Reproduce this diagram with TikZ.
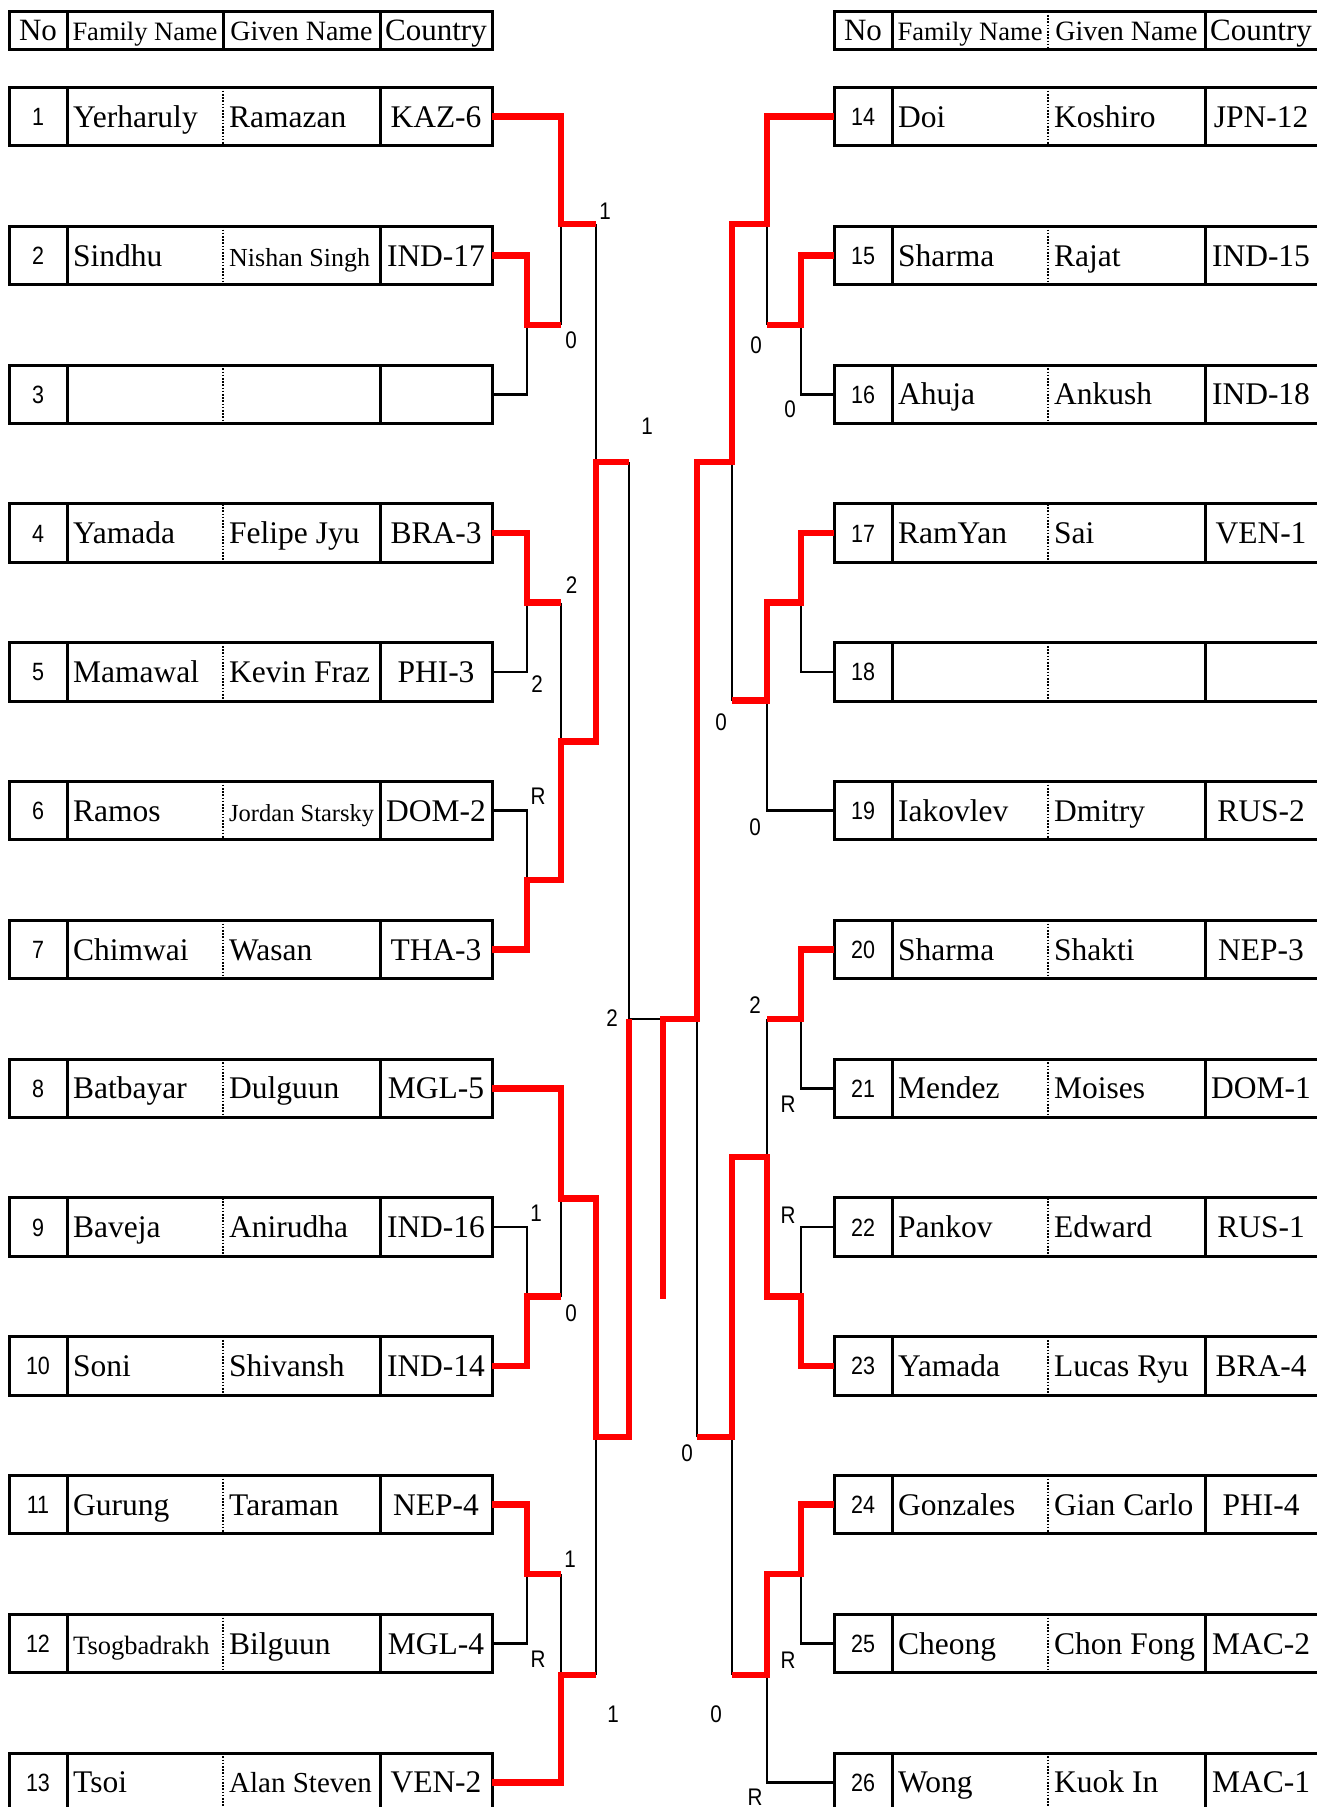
\documentclass[tikz,border=0pt]{standalone}
\usepackage{fontspec}
\setmainfont{Liberation Serif}
\newfontfamily\numfont[FakeStretch=0.86]{Liberation Sans}
\usetikzlibrary{calc}
\definecolor{winred}{RGB}{255,0,0}

\newcommand{\fit}[2]{{\fontsize{#1}{#1}\selectfont #2}}
\newcommand{\entrant}[6]{%
  \node[#1] (p#2) at (#3) {};
  \draw[cellrule] ($(p#2.north west)+(58,0)$) -- ($(p#2.south west)+(58,0)$);
  \draw[dotrule] ($(p#2.north west)+(214,0)$) -- ($(p#2.south west)+(214,0)$);
  \draw[cellrule] ($(p#2.north west)+(371,0)$) -- ($(p#2.south west)+(371,0)$);
  \node[numtxt] (n#2) at ($(p#2.west)+(29,0)$) {#2};
  \node[nametxt] (f#2) at ($(p#2.west)+(64,0)$) {#4};
  \node[nametxt] (g#2) at ($(p#2.west)+(220,0)$) {#5};
  \node[ctrytxt] (c#2) at ($(p#2.west)+(427,0)$) {#6};
}
\newcommand{\headrow}[4]{%
  \node[#2] (#1) at (#3) {};
  \draw[cellrule] ($(#1.north west)+(58,0)$) -- ($(#1.south west)+(58,0)$);
  \draw[#4] ($(#1.north west)+(214,0)$) -- ($(#1.south west)+(214,0)$);
  \draw[cellrule] ($(#1.north west)+(371,0)$) -- ($(#1.south west)+(371,0)$);
  \node[headtxt] (#1-no) at ($(#1.west)+(29,0)$) {No};
  \node[headtxt, font=\fontsize{26.5}{27}\selectfont] (#1-fam) at ($(#1.west)+(136,0)$) {Family Name};
  \node[headtxt, font=\fontsize{28}{28}\selectfont] (#1-giv) at ($(#1.west)+(292.5,0)$) {Given Name};
  \node[headtxt] (#1-cty) at ($(#1.west)+(427,0)$) {Country};
}

\begin{document}
\begin{tikzpicture}[x=1pt, y=-1pt,
  lrow/.style={draw, line width=3pt, minimum width=483pt, minimum height=58.4pt,
               inner sep=0pt, outer sep=0pt, anchor=west},
  rrow/.style={lrow, minimum width=490pt},
  lhead/.style={lrow, minimum height=37.6pt},
  rhead/.style={rrow, minimum height=37.6pt},
  cellrule/.style={line width=3pt},
  dotrule/.style={line width=2.2pt, dash pattern=on 1.6pt off 1.6pt},
  numtxt/.style={font=\numfont\fontsize{25}{25}\selectfont, inner sep=0pt,
                 text height=18pt, text depth=0pt},
  nametxt/.style={font=\fontsize{31.5}{32}\selectfont, anchor=west, inner sep=0pt,
                  text height=21pt, text depth=0pt},
  ctrytxt/.style={nametxt, anchor=center},
  headtxt/.style={font=\fontsize{31}{31}\selectfont, inner sep=0pt,
                  text height=20pt, text depth=0pt},
  score/.style={font=\numfont\fontsize{24}{24}\selectfont, inner sep=0pt,
                text height=17pt, text depth=0pt},
  won/.style={draw=winred, line width=6.5pt},
  lost/.style={draw=black, line width=2.6pt}
]
  \useasboundingbox (0,0) rectangle (1317,1807);

  \headrow{hl}{lhead}{9,30.5}{cellrule}
  \headrow{hr}{rhead}{834,30.5}{dotrule}

  \entrant{lrow}{1}{9,116.7}{Yerharuly}{Ramazan}{KAZ-6}
  \entrant{lrow}{2}{9,255.5}{Sindhu}{\fit{26}{Nishan Singh}}{IND-17}
  \entrant{lrow}{3}{9,394.3}{}{}{}
  \entrant{lrow}{4}{9,533.1}{Yamada}{Felipe Jyu}{BRA-3}
  \entrant{lrow}{5}{9,671.9}{Mamawal}{Kevin Fraz}{PHI-3}
  \entrant{lrow}{6}{9,810.7}{Ramos}{\fit{24.5}{Jordan Starsky}}{DOM-2}
  \entrant{lrow}{7}{9,949.5}{Chimwai}{Wasan}{THA-3}
  \entrant{lrow}{8}{9,1088.3}{Batbayar}{Dulguun}{MGL-5}
  \entrant{lrow}{9}{9,1227.1}{Baveja}{Anirudha}{IND-16}
  \entrant{lrow}{10}{9,1365.9}{Soni}{Shivansh}{IND-14}
  \entrant{lrow}{11}{9,1504.7}{Gurung}{Taraman}{NEP-4}
  \entrant{lrow}{12}{9,1643.5}{\fit{26.5}{Tsogbadrakh}}{Bilguun}{MGL-4}
  \entrant{lrow}{13}{9,1782.3}{Tsoi}{\fit{29}{Alan Steven}}{VEN-2}

  \entrant{rrow}{14}{834,116.7}{Doi}{Koshiro}{JPN-12}
  \entrant{rrow}{15}{834,255.5}{Sharma}{Rajat}{IND-15}
  \entrant{rrow}{16}{834,394.3}{Ahuja}{Ankush}{IND-18}
  \entrant{rrow}{17}{834,533.1}{RamYan}{Sai}{VEN-1}
  \entrant{rrow}{18}{834,671.9}{}{}{}
  \entrant{rrow}{19}{834,810.7}{Iakovlev}{Dmitry}{RUS-2}
  \entrant{rrow}{20}{834,949.5}{Sharma}{Shakti}{NEP-3}
  \entrant{rrow}{21}{834,1088.3}{Mendez}{Moises}{DOM-1}
  \entrant{rrow}{22}{834,1227.1}{Pankov}{Edward}{RUS-1}
  \entrant{rrow}{23}{834,1365.9}{Yamada}{Lucas Ryu}{BRA-4}
  \entrant{rrow}{24}{834,1504.7}{Gonzales}{Gian Carlo}{PHI-4}
  \entrant{rrow}{25}{834,1643.5}{Cheong}{Chon Fong}{MAC-2}
  \entrant{rrow}{26}{834,1782.3}{Wong}{Kuok In}{MAC-1}

  \coordinate (a1) at (527,324.9);
  \coordinate (a2) at (561,224);
  \coordinate (a3) at (527,602.5);
  \coordinate (a4) at (527,880.1);
  \coordinate (a5) at (561,741.3);
  \coordinate (a6) at (596,462);
  \coordinate (a7) at (629,1019);
  \coordinate (a8) at (527,1296.5);
  \coordinate (a9) at (561,1198.6);
  \coordinate (a10) at (596,1437);
  \coordinate (a11) at (527,1574.1);
  \coordinate (a12) at (561,1675);
  \coordinate (fin) at (663,1019);
  \coordinate (champ) at (663,1298.6);
  \coordinate (b1) at (801,324.9);
  \coordinate (b2) at (767,224);
  \coordinate (b3) at (801,602.5);
  \coordinate (b4) at (767,700.5);
  \coordinate (b5) at (732,462);
  \coordinate (b6) at (801,1019);
  \coordinate (b7) at (801,1296.5);
  \coordinate (b8) at (767,1157);
  \coordinate (b9) at (801,1574.1);
  \coordinate (b10) at (767,1675);
  \coordinate (b11) at (732,1437);
  \coordinate (b12) at (697,1019);

  \draw[lost] (p3.east) -| (a1);
  \draw[lost] (a1 -| a2) -- (a2);
  \draw[lost] (p5.east) -| (a3);
  \draw[lost] (p6.east) -| (a4);
  \draw[lost] (a3 -| a5) -- (a5);
  \draw[lost] (a2 -| a6) -- (a6);
  \draw[lost] (a6 -| a7) -- (a7) -- (fin);
  \draw[lost] (p9.east) -| (a8);
  \draw[lost] (a8 -| a9) -- (a9);
  \draw[lost] (p12.east) -| (a11);
  \draw[lost] (a11 -| a12) -- (a12);
  \draw[lost] (a12 -| a10) -- (a10);
  \draw[lost] (p16.west) -| (b1);
  \draw[lost] (b1 -| b2) -- (b2);
  \draw[lost] (p18.west) -| (b3);
  \draw[lost] (p19.west) -| (b4);
  \draw[lost] (b4 -| b5) -- (b5);
  \draw[lost] (p21.west) -| (b6);
  \draw[lost] (p22.west) -| (b7);
  \draw[lost] (b6 -| b8) -- (b8);
  \draw[lost] (p25.west) -| (b9);
  \draw[lost] (p26.west) -| (b10);
  \draw[lost] (b10 -| b11) -- (b11);
  \draw[lost] (b11 -| b12) -- (b12);

  \draw[won] (p1.east) -| (a2) -- (a2 -| a6);
  \draw[won] (p2.east) -| (a1) -- (a1 -| a2);
  \draw[won] (p4.east) -| (a3) -- (a3 -| a5);
  \draw[won] (p7.east) -| (a4) -- (a4 -| a5) -- (a5) -- (a5 -| a6) -- (a6) -- (a6 -| a7);
  \draw[won] (p8.east) -| (a9) -- (a9 -| a10) -- (a10) -- (a10 -| a7) -- (a7);
  \draw[won] (p10.east) -| (a8) -- (a8 -| a9);
  \draw[won] (p11.east) -| (a11) -- (a11 -| a12);
  \draw[won] (p13.east) -| (a12) -- (a12 -| a10);
  \draw[won] (p14.west) -| (b2) -- (b2 -| b5) -- (b5) -- (b5 -| b12) -- (b12) -- (fin) -- (champ);
  \draw[won] (p15.west) -| (b1) -- (b1 -| b2);
  \draw[won] (p17.west) -| (b3) -- (b3 -| b4) -- (b4) -- (b4 -| b5);
  \draw[won] (p20.west) -| (b6) -- (b6 -| b8);
  \draw[won] (p23.west) -| (b7) -- (b7 -| b8) -- (b8) -- (b8 -| b11) -- (b11) -- (b11 -| b12);
  \draw[won] (p24.west) -| (b9) -- (b9 -| b10) -- (b10) -- (b10 -| b11);

  \node[score] (s1) at (605,211) {1};
  \node[score] (s2) at (571,340) {0};
  \node[score] (s3) at (647,426) {1};
  \node[score] (s4) at (571.5,585) {2};
  \node[score] (s5) at (537,684) {2};
  \node[score] (s6) at (538,796) {R};
  \node[score] (s7) at (612,1018) {2};
  \node[score] (s8) at (536,1213) {1};
  \node[score] (s9) at (571,1313) {0};
  \node[score] (s10) at (570,1559) {1};
  \node[score] (s11) at (538,1659) {R};
  \node[score] (s12) at (613,1714) {1};
  \node[score] (s13) at (756,345) {0};
  \node[score] (s14) at (790,409) {0};
  \node[score] (s15) at (721,722) {0};
  \node[score] (s16) at (755,827) {0};
  \node[score] (s17) at (755,1005) {2};
  \node[score] (s18) at (788,1104) {R};
  \node[score] (s19) at (788,1215) {R};
  \node[score] (s20) at (687,1453) {0};
  \node[score] (s21) at (788,1660) {R};
  \node[score] (s22) at (716,1714) {0};
  \node[score] (s23) at (755,1797) {R};
\end{tikzpicture}
\end{document}
